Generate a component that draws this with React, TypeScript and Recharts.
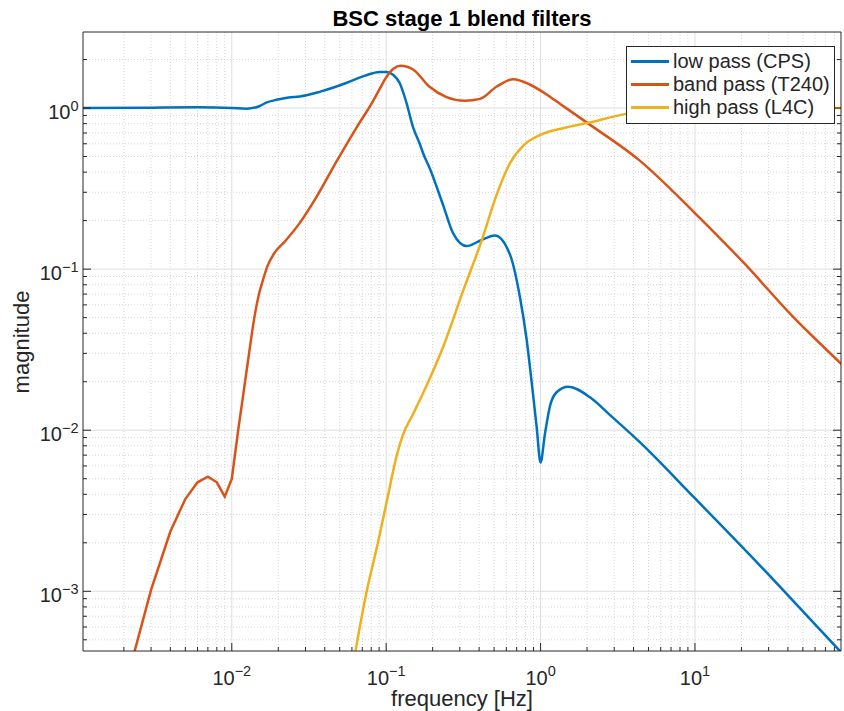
import React from "react";
import { LineChart, Line, XAxis, YAxis, CartesianGrid, Legend } from "recharts";

// low pass (CPS)
const lowFreq = [0.001, 0.003, 0.006, 0.01, 0.0124, 0.0152, 0.0167, 0.0195, 0.0233, 0.0276, 0.037, 0.054, 0.073, 0.0906, 0.1006, 0.1106, 0.1223, 0.1345, 0.15, 0.165, 0.174, 0.192, 0.234, 0.272, 0.332, 0.405, 0.506, 0.634, 0.735, 0.812, 0.875, 0.944, 1.0, 1.066, 1.15, 1.27, 1.51, 2.09, 2.82, 4.41, 9.8, 26.3, 85, 100];
const lowMag = [1.0, 1.005, 1.01, 1.0, 0.99, 1.03, 1.08, 1.125, 1.164, 1.18, 1.26, 1.42, 1.59, 1.674, 1.674, 1.61, 1.43, 1.1, 0.75, 0.6, 0.52, 0.42, 0.249, 0.166, 0.139, 0.15, 0.162, 0.123, 0.0671, 0.0367, 0.02, 0.0104, 0.0063, 0.0094, 0.0141, 0.0172, 0.0186, 0.016, 0.0124, 0.0084, 0.00385, 0.00145, 0.000436, 0.00037];

// band pass (T240) - coarse sampling below 0.012 Hz shows as straight segments
const bandFreq = [0.002, 0.003, 0.004, 0.005, 0.006, 0.007, 0.008, 0.009, 0.01, 0.011, 0.012, 0.013, 0.014, 0.015, 0.016, 0.017, 0.019, 0.022, 0.0275, 0.035, 0.047, 0.064, 0.082, 0.091, 0.1, 0.112, 0.124, 0.15, 0.19, 0.246, 0.323, 0.405, 0.52, 0.665, 0.85, 1.1, 1.34, 2.04, 4.41, 9.8, 20.6, 43.4, 91.6];
const bandMag = [0.00024, 0.00102, 0.00235, 0.00374, 0.00475, 0.00515, 0.00475, 0.00387, 0.00499, 0.01, 0.018, 0.031, 0.05, 0.07, 0.087, 0.104, 0.127, 0.148, 0.193, 0.276, 0.455, 0.751, 1.1, 1.32, 1.55, 1.76, 1.83, 1.73, 1.36, 1.17, 1.11, 1.14, 1.36, 1.51, 1.4, 1.21, 1.06, 0.8, 0.47, 0.227, 0.11, 0.0503, 0.025];

// high pass (L4C)
const highFreq = [0.06, 0.0743, 0.0884, 0.1026, 0.117, 0.1287, 0.15, 0.183, 0.234, 0.316, 0.415, 0.519, 0.634, 0.773, 0.99, 1.4, 2.04, 3.61, 6, 10, 20, 50, 100];
const highMag = [0.00032, 0.00097, 0.002, 0.0039, 0.00697, 0.0094, 0.0127, 0.019, 0.033, 0.074, 0.15, 0.289, 0.455, 0.585, 0.68, 0.75, 0.81, 0.92, 0.96, 0.98, 0.99, 1.0, 1.0];

const seriesNames = ["low pass (CPS)", "band pass (T240)", "high pass (L4C)"];
const BLUE = "#0072BD";
const ORANGE = "#D95319";
const YELLOW = "#EDB120";
const seriesColors = [BLUE, ORANGE, YELLOW];

const xMajor = [0.01, 0.1, 1, 10];
const yMajor = [0.001, 0.01, 0.1, 1];
const minorOf = (decades: number[]) => decades.flatMap((d) => [2, 3, 4, 5, 6, 7, 8, 9].map((k) => k * d));
const xMinor = minorOf([0.001, 0.01, 0.1, 1, 10]).filter((v) => v < 88);
const yMinor = [0.0005, 0.0006, 0.0007, 0.0008, 0.0009, ...minorOf([0.001, 0.01, 0.1]), 2];
const xAll = [...xMajor, ...xMinor];
const yAll = [...yMajor, ...yMinor];

const X_DOMAIN = [1.087e-3, 88.3];
const Y_DOMAIN = [4.26e-4, 2.965];

const AXIS = "#262626";
const FONT = '"Liberation Sans", Arial, Helvetica, sans-serif';

const toRows = (f: number[], m: number[]) => f.map((v, i) => ({ f: v, m: m[i] }));

// curve: straight segments for the first `linearUpTo` points, monotone cubic after that
const hybridCurve = (linearUpTo: number) => (context: any) => {
  let pts: number[][] = [];
  return {
    areaStart() {},
    areaEnd() {},
    lineStart() {
      pts = [];
    },
    point(x: number, y: number) {
      pts.push([+x, +y]);
    },
    lineEnd() {
      const n = pts.length;
      if (!n) return;
      const s: number[] = [];
      for (let i = 0; i < n - 1; i++) {
        const h = pts[i + 1][0] - pts[i][0];
        s.push(h ? (pts[i + 1][1] - pts[i][1]) / h : 0);
      }
      const t: number[] = [];
      for (let i = 0; i < n; i++) {
        if (i === 0) t.push(s[0] || 0);
        else if (i === n - 1) t.push(s[n - 2] || 0);
        else {
          const s0 = s[i - 1];
          const s1 = s[i];
          if (s0 * s1 <= 0) t.push(0);
          else {
            const h0 = pts[i][0] - pts[i - 1][0];
            const h1 = pts[i + 1][0] - pts[i][0];
            const p = (s0 * h1 + s1 * h0) / (h0 + h1);
            t.push(Math.sign(s0) * Math.min(Math.abs(s0), Math.abs(s1), 0.5 * Math.abs(p)) * 2);
          }
        }
      }
      context.moveTo(pts[0][0], pts[0][1]);
      for (let i = 1; i < n; i++) {
        const [x0, y0] = pts[i - 1];
        const [x1, y1] = pts[i];
        if (i <= linearUpTo) {
          context.lineTo(x1, y1);
        } else {
          const dx = (x1 - x0) / 3;
          context.bezierCurveTo(x0 + dx, y0 + t[i - 1] * dx, x1 - dx, y1 - t[i] * dx, x1, y1);
        }
      }
    },
  };
};

const isMajor = (v: number) => Math.abs(Math.log10(v) - Math.round(Math.log10(v))) < 1e-6;
const expText = (v: number) => {
  const e = Math.round(Math.log10(v));
  return e < 0 ? "\u2212" + -e : String(e);
};

// bottom axis: inward tick + 10^n label
const XBottomTick = (props: any) => {
  const { x, y, payload } = props;
  const major = isMajor(payload.value);
  return (
    <g>
      <line x1={x} y1={y} x2={x} y2={y - (major ? 8 : 4)} stroke={AXIS} />
      {major && (
        <text x={x} y={y + 33.5} textAnchor="middle" fontSize={20} fill={AXIS} fontFamily={FONT}>
          10<tspan dy={-8.5} fontSize={14.5}>{expText(payload.value)}</tspan>
        </text>
      )}
    </g>
  );
};

const XTopTick = (props: any) => {
  const { x, y, payload } = props;
  return <line x1={x} y1={y} x2={x} y2={y + (isMajor(payload.value) ? 8 : 4)} stroke={AXIS} />;
};

const YLeftTick = (props: any) => {
  const { x, y, payload } = props;
  const major = isMajor(payload.value);
  return (
    <g>
      <line x1={x} y1={y} x2={x + (major ? 8 : 4)} y2={y} stroke={AXIS} />
      {major && (
        <text x={x - 4.5} y={y + 11} textAnchor="end" fontSize={20} fill={AXIS} fontFamily={FONT}>
          10<tspan dy={-8.5} fontSize={14.5}>{expText(payload.value)}</tspan>
        </text>
      )}
    </g>
  );
};

const YRightTick = (props: any) => {
  const { x, y, payload } = props;
  return <line x1={x} y1={y} x2={x - (isMajor(payload.value) ? 8 : 4)} y2={y} stroke={AXIS} />;
};

const LegendBox = () => (
  <div
    style={{
      border: "1px solid #262626",
      background: "#fff",
      width: 207,
      padding: "3px 0 4px 0",
      fontFamily: FONT,
      fontSize: 20,
      color: AXIS,
    }}
  >
    {seriesNames.map((name, i) => (
      <div key={name} style={{ display: "flex", alignItems: "center", height: 23 }}>
        <div style={{ width: 38, height: 3, background: seriesColors[i], marginLeft: 4, marginRight: 4 }} />
        <span style={{ whiteSpace: "nowrap" }}>{name}</span>
      </div>
    ))}
  </div>
);

const xProps = { type: "number" as const, scale: "log" as const, domain: X_DOMAIN, allowDataOverflow: true, interval: 0, tickSize: 0, tickMargin: 0 };
const yProps = { type: "number" as const, scale: "log" as const, domain: Y_DOMAIN, allowDataOverflow: true, interval: 0, tickSize: 0, tickMargin: 0 };

export default function App() {
  return (
    <div style={{ position: "absolute", left: 0, top: 0, width: 844, height: 711, background: "#fff" }}>
      <LineChart width={844} height={711} margin={{ top: 31, right: 2, bottom: 0, left: 0 }}>
        <XAxis xAxisId="x" dataKey="f" {...xProps} height={60} ticks={xAll} tick={<XBottomTick />} axisLine={{ stroke: AXIS }} />
        <XAxis xAxisId="xt" orientation="top" {...xProps} height={1} ticks={xAll} tick={<XTopTick />} axisLine={{ stroke: AXIS }} />
        <YAxis yAxisId="y" dataKey="m" {...yProps} width={83} ticks={yAll} tick={<YLeftTick />} axisLine={{ stroke: AXIS }} />
        <YAxis yAxisId="yr" orientation="right" {...yProps} width={1} ticks={yAll} tick={<YRightTick />} axisLine={{ stroke: AXIS }} />
        <CartesianGrid xAxisId="x" yAxisId="y" verticalValues={xMinor} horizontalValues={yMinor} stroke="#d6d6d6" strokeDasharray="1 2" />
        <CartesianGrid xAxisId="x" yAxisId="y" verticalValues={xMajor} horizontalValues={yMajor} stroke="#dedede" />
        <Legend
          layout="vertical"
          align="center"
          verticalAlign="middle"
          content={<LegendBox />}
          wrapperStyle={{ left: 626, top: 46, width: 209, height: 78 }}
        />
        <Line xAxisId="x" yAxisId="y" data={toRows(lowFreq, lowMag)} dataKey="m" name={seriesNames[0]} type="monotoneX" stroke={BLUE} strokeWidth={2.5} dot={false} isAnimationActive={false} />
        <Line xAxisId="x" yAxisId="y" data={toRows(bandFreq, bandMag)} dataKey="m" name={seriesNames[1]} type={hybridCurve(10) as any} stroke={ORANGE} strokeWidth={2.5} dot={false} isAnimationActive={false} />
        <Line xAxisId="x" yAxisId="y" data={toRows(highFreq, highMag)} dataKey="m" name={seriesNames[2]} type="monotoneX" stroke={YELLOW} strokeWidth={2.5} dot={false} isAnimationActive={false} />
      </LineChart>
      <svg width={844} height={711} style={{ position: "absolute", left: 0, top: 0, pointerEvents: "none" }}>
        <text x={462} y={26} textAnchor="middle" fontSize={22} fontWeight="bold" fill="#000" fontFamily={FONT}>
          BSC stage 1 blend filters
        </text>
        <text x={462} y={706} textAnchor="middle" fontSize={22} fill={AXIS} fontFamily={FONT}>
          frequency [Hz]
        </text>
        <text x={28.5} y={342} textAnchor="middle" fontSize={22} fill={AXIS} fontFamily={FONT} transform="rotate(-90 28.5 342)">
          magnitude
        </text>
      </svg>
    </div>
  );
}
